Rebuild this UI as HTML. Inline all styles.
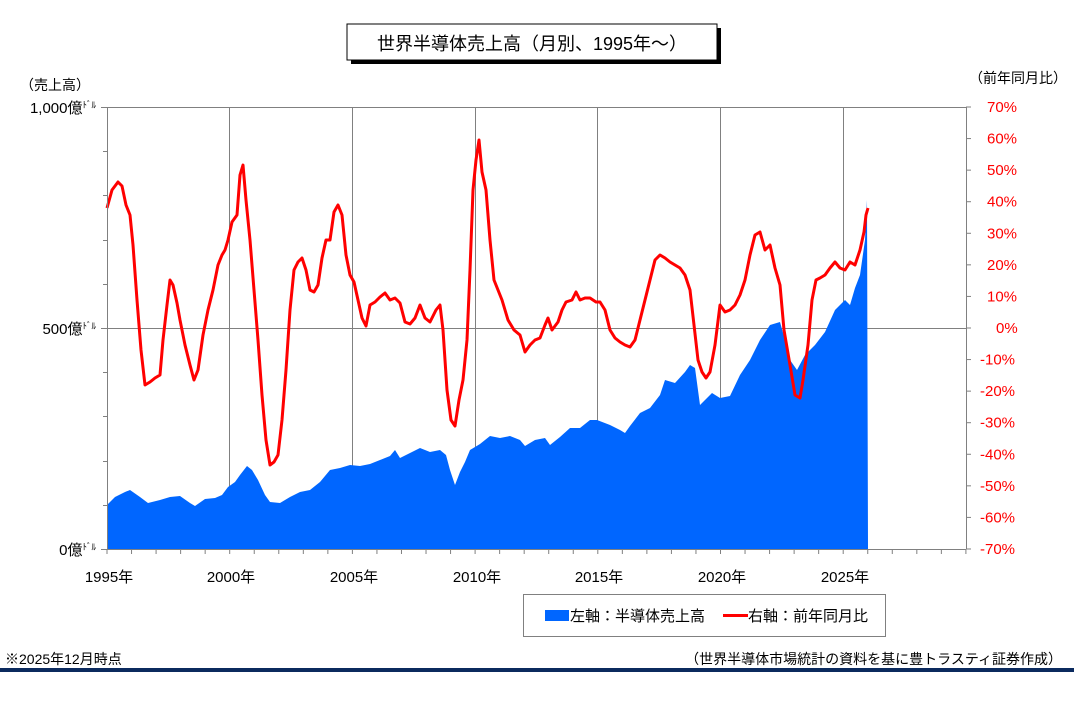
<!DOCTYPE html>
<html><head><meta charset="utf-8"><style>
body{margin:0;background:#fff;}
svg text{font-family:"Liberation Sans","Noto Sans CJK JP",sans-serif;}
</style></head><body>
<svg width="1074" height="707" viewBox="0 0 1074 707" xmlns="http://www.w3.org/2000/svg">
<rect width="1074" height="707" fill="#fff"/>
<!-- title -->
<rect x="351" y="28" width="370" height="36" fill="#000"/>
<rect x="347" y="24" width="370" height="36" fill="#fff" stroke="#000" stroke-width="1"/>
<text x="532" y="50" font-size="18" text-anchor="middle">世界半導体売上高（月別、1995年～）</text>
<text x="20" y="90" font-size="14">（売上高）</text>
<text x="1018" y="83" font-size="14" text-anchor="middle">（前年同月比）</text>
<!-- grid -->
<g stroke="#808080" stroke-width="1">
<line x1="229.5" y1="107" x2="229.5" y2="549"/><line x1="352.5" y1="107" x2="352.5" y2="549"/>
<line x1="475.5" y1="107" x2="475.5" y2="549"/><line x1="597.5" y1="107" x2="597.5" y2="549"/>
<line x1="720.5" y1="107" x2="720.5" y2="549"/><line x1="843.5" y1="107" x2="843.5" y2="549"/>
<line x1="107" y1="107.5" x2="966" y2="107.5"/>
<line x1="107" y1="328.5" x2="966" y2="328.5"/>
</g>
<polygon fill="#0066ff" points="107,549 107,505 115,497 125,492 130,490 140,497 148,503 160,500 170,497 180,496 190,503 195,506 205,499 215,498 222,495 228,487 235,482 240,475 247,466 252,470 258,480 265,495 270,502 280,503 290,497 300,492 310,490 320,482 330,470 340,468 350,465 360,466 370,464 380,460 390,456 395,450 400,458 410,453 420,448 430,452 440,450 446,455 450,470 455,485 460,472 465,462 470,450 480,444 490,436 500,438 510,436 520,440 525,446 535,440 545,438 550,445 560,437 570,428 580,428 590,420 597,420 610,425 620,430 625,433 630,426 640,413 650,408 660,395 665,380 675,383 685,372 690,365 695,368 700,405 705,400 712,393 720,398 730,396 740,375 750,360 760,340 770,325 780,322 785,340 790,360 797,370 805,355 815,345 825,332 835,310 845,300 850,305 855,288 860,275 865,240 867,200 868,549"/>
<polyline fill="none" stroke="#ff0000" stroke-width="3" stroke-linejoin="round" points="107,208 112,190 118,182 122,186 126,205 130,215 133,245 137,300 141,350 145,385 150,382 155,378 160,375 163,340 167,305 170,280 173,285 177,303 180,320 185,345 190,365 194,380 198,370 203,335 208,310 213,290 218,265 222,255 225,250 228,240 232,222 237,215 240,175 243,165 246,200 250,240 254,290 258,340 262,395 266,440 270,465 274,462 278,455 282,420 286,370 290,310 294,270 298,262 302,258 306,270 310,290 314,292 318,285 322,258 326,240 330,240 334,212 338,205 342,215 346,255 350,275 354,282 358,300 362,318 366,326 370,305 375,302 380,297 385,293 390,300 395,298 400,303 405,322 410,324 415,318 420,305 425,318 430,322 436,310 440,305 443,330 447,390 451,420 455,426 459,400 463,380 467,340 470,270 473,190 476,160 479,140 482,172 486,190 490,240 494,280 498,290 502,300 508,320 514,330 520,335 525,352 530,345 535,340 540,338 545,325 548,318 552,330 558,322 562,310 566,302 572,300 576,292 580,300 585,298 590,298 596,302 600,302 605,310 610,330 615,338 620,342 625,345 630,347 635,340 640,320 645,300 650,280 655,260 660,255 665,258 670,262 675,265 680,268 685,275 690,290 694,325 698,360 702,372 706,378 710,372 715,345 720,305 725,312 730,310 735,305 740,295 745,280 750,255 755,235 760,232 765,250 770,245 775,268 780,285 784,330 790,365 795,395 800,398 803,380 808,345 812,300 816,280 820,278 825,275 830,268 835,262 840,268 845,270 850,262 855,265 860,250 864,232 866,215 868,208"/>
<!-- axes -->
<g stroke="#808080" stroke-width="1">
<line x1="107.5" y1="107" x2="107.5" y2="549"/>
<line x1="966.5" y1="107" x2="966.5" y2="549"/>
<line x1="107" y1="549.5" x2="966" y2="549.5"/>
<line x1="101" y1="107.5" x2="107" y2="107.5"/><line x1="101" y1="328.5" x2="107" y2="328.5"/><line x1="101" y1="549.5" x2="107" y2="549.5"/>
<line x1="103" y1="151.5" x2="107" y2="151.5"/><line x1="103" y1="195.5" x2="107" y2="195.5"/><line x1="103" y1="240.5" x2="107" y2="240.5"/><line x1="103" y1="284.5" x2="107" y2="284.5"/>
<line x1="103" y1="372.5" x2="107" y2="372.5"/><line x1="103" y1="416.5" x2="107" y2="416.5"/><line x1="103" y1="461.5" x2="107" y2="461.5"/><line x1="103" y1="505.5" x2="107" y2="505.5"/>
</g>
<g stroke="#808080" id="ticks"></g>
<g font-size="15" text-anchor="end">
<text x="96" y="113">1,000億<tspan font-size="9" dy="-5">ﾄﾞﾙ</tspan></text>
<text x="96" y="334">500億<tspan font-size="9" dy="-5">ﾄﾞﾙ</tspan></text>
<text x="96" y="555">0億<tspan font-size="9" dy="-5">ﾄﾞﾙ</tspan></text>
</g>
<g font-size="15" fill="#ff0000" text-anchor="start" id="rt"></g>
<g font-size="15" text-anchor="middle">
<text x="109" y="582">1995年</text><text x="231" y="582">2000年</text><text x="354" y="582">2005年</text>
<text x="477" y="582">2010年</text><text x="599" y="582">2015年</text><text x="722" y="582">2020年</text><text x="845" y="582">2025年</text>
</g>
<!-- legend -->
<rect x="523.5" y="594.5" width="362" height="42" fill="#fff" stroke="#808080"/>
<rect x="545" y="610" width="24" height="11" fill="#0066ff"/>
<text x="570" y="621" font-size="15">左軸：半導体売上高</text>
<line x1="723" y1="615.5" x2="748" y2="615.5" stroke="#ff0000" stroke-width="3"/>
<text x="748" y="621" font-size="15">右軸：前年同月比</text>
<text x="5" y="664" font-size="14">※2025年12月時点</text>
<text x="1062" y="664" font-size="14" text-anchor="end">（世界半導体市場統計の資料を基に豊トラスティ証券作成）</text>
<rect x="0" y="668" width="1074" height="4" fill="#0b2a5e"/>
</svg>
<script>
var t=document.getElementById('ticks'),s='';
for(var i=0;i<=35;i++){var x=107+i*24.54;s+='<line x1="'+x+'" y1="549" x2="'+x+'" y2="554"/>';}
for(var k=0;k<=14;k++){var y=107+k*31.57;s+='<line x1="966" y1="'+y+'" x2="971" y2="'+y+'"/>';}
t.innerHTML=s;
var r=document.getElementById('rt'),h='';
for(var k=0;k<=14;k++){var v=70-k*10,y=107+k*31.57+5;h+='<text x="'+(v<0?980:(v==0?996:987))+'" y="'+y+'">'+v+'%</text>';}
r.innerHTML=h;
</script>
</body></html>
